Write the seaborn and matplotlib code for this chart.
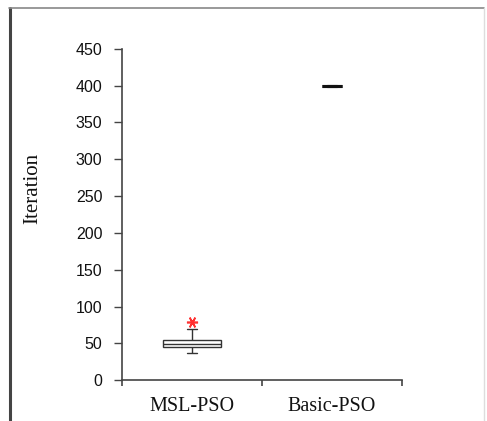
import matplotlib
matplotlib.use("Agg")
import matplotlib.pyplot as plt
from matplotlib.lines import Line2D
from matplotlib.ticker import FixedLocator
import seaborn as sns
import pandas as pd

categories = ["MSL-PSO", "Basic-PSO"]
msl_pso = [37, 41, 43, 44, 44, 45, 46, 47, 48, 48, 49, 50, 51, 52, 54, 55, 57, 62, 70, 79]
basic_pso = [400] * 20
y_ticks = [0, 50, 100, 150, 200, 250, 300, 350, 400, 450]

df_msl = pd.DataFrame({"alg": categories[0], "iter": msl_pso})
df_basic = pd.DataFrame({"alg": categories[1], "iter": basic_pso})

sns.set_style("white")
plt.rcParams["font.family"] = ["Liberation Sans", "DejaVu Sans"]

fig = plt.figure(figsize=(4.87, 4.21), dpi=100)
ax = fig.add_axes([0.2505, 0.097, 0.5745, 0.787])

sns.boxplot(data=df_msl, x="alg", y="iter", order=categories, width=0.41,
            whis=2.0, color="white", linecolor="#333333", linewidth=1.0,
            capwidths=0.07,
            flierprops=dict(marker=(6, 2, 90), markeredgecolor="#ff3030",
                            markerfacecolor="#ff3030", markersize=8,
                            markeredgewidth=1.2),
            ax=ax)
sns.boxplot(data=df_basic, x="alg", y="iter", order=categories, width=0.14,
            color="white", linecolor="#111111", linewidth=2.2,
            capwidths=0.07, ax=ax)

ax.set_xlim(-0.5, 1.5)
ax.set_ylim(0, 450)
ax.set_yticks(y_ticks)
ax.set_yticklabels([str(t) for t in y_ticks], fontsize=11.5, color="#111111")
ax.set_xticks([0, 1])
ax.set_xticklabels(categories, fontsize=14.5, family=["Liberation Serif", "DejaVu Serif"],
                   color="#111111")
ax.xaxis.set_minor_locator(FixedLocator([-0.5, 0.5, 1.5]))
ax.tick_params(axis="x", which="major", length=0, pad=12)
ax.tick_params(axis="x", which="minor", length=4, width=1.2, color="#444444", direction="out", bottom=True)
ax.tick_params(axis="y", which="major", length=6, width=1.0, color="#444444", direction="out", left=True, pad=8)

ax.set_xlabel("")
ax.set_ylabel("Iteration", fontsize=15, family=["Liberation Serif", "DejaVu Serif"],
              color="#111111")
ax.yaxis.set_label_coords(-0.285, 0.58)

for s in ["top", "right"]:
    ax.spines[s].set_visible(False)
for s in ["left", "bottom"]:
    ax.spines[s].set_color("#444444")
    ax.spines[s].set_linewidth(1.2)

# outer frame of the picture
fig.add_artist(Line2D([9.5 / 487, 9.5 / 487], [0, 1 - 8 / 421], transform=fig.transFigure,
                      color="#444444", linewidth=2.2))
fig.add_artist(Line2D([9 / 487, 484 / 487], [1 - 8 / 421, 1 - 8 / 421], transform=fig.transFigure,
                      color="#888888", linewidth=1.2))
fig.add_artist(Line2D([483.5 / 487, 483.5 / 487], [0, 1 - 8 / 421], transform=fig.transFigure,
                      color="#dddddd", linewidth=1.0))

fig.savefig("out.png", dpi=100)
